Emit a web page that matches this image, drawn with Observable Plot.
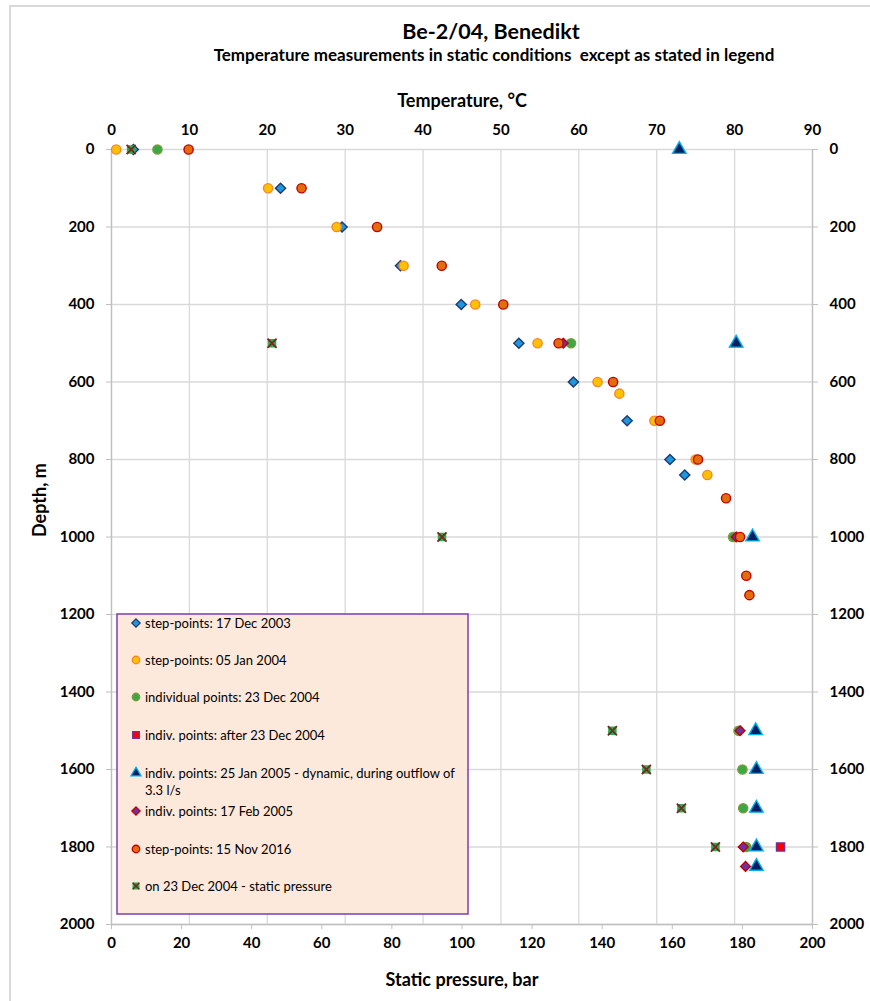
<!DOCTYPE html>
<html><head><meta charset="utf-8">
<script src="https://cdn.jsdelivr.net/npm/d3@7"></script>
<script src="https://cdn.jsdelivr.net/npm/@observablehq/plot@0.6"></script>
<style>body{margin:0;background:#fff;}</style>
</head><body><div id="chart"></div>
<script>
// ---- data ----
const tempTicks = [0,10,20,30,40,50,60,70,80,90];
const pressureTicks = [0,20,40,60,80,100,120,140,160,180,200];
const depthTicks = [0,200,400,600,800,1000,1200,1400,1600,1800,2000];

const depth2003 = [0,100,200,300,400,500,600,700,800,840];
const temp2003  = [2.8,21.7,29.6,37.1,44.9,52.3,59.3,66.2,71.7,73.6];

const depth2004 = [0,100,200,300,400,500,600,630,700,800,840];
const temp2004  = [0.6,20.1,28.9,37.5,46.7,54.7,62.4,65.2,69.7,75.0,76.5];

const depthDec04 = [0,500,1000,1500,1600,1700,1800];
const tempDec04  = [5.9,59.0,79.8,80.5,81.0,81.1,81.5];

const depthAfter04 = [1800];
const tempAfter04  = [85.9];

const depthJan05 = [0,500,1000,1500,1600,1700,1800,1850];
const tempJan05  = [72.9,80.2,82.3,82.7,82.8,82.8,82.8,82.8];

const depthFeb05 = [500,1000,1500,1800,1850];
const tempFeb05  = [58.0,80.2,80.7,81.1,81.4];

const depth2016 = [0,100,200,300,400,500,600,700,800,900,1000,1100,1150];
const temp2016  = [9.9,24.4,34.1,42.4,50.3,57.4,64.4,70.4,75.3,78.9,80.7,81.5,81.9];

const depthPress = [0,500,1000,1500,1600,1700,1800];
const pressure   = [5.6,45.8,94.3,142.9,152.6,162.6,172.3];

const legendLabels = [
  "step-points: 17 Dec 2003",
  "step-points: 05 Jan 2004",
  "individual points: 23 Dec 2004",
  "indiv. points: after 23 Dec 2004",
  "indiv. points: 25 Jan 2005 - dynamic, during outflow of|3.3 l/s",
  "indiv. points: 17 Feb 2005",
  "step-points: 15 Nov 2016",
  "on 23 Dec 2004 - static pressure"
];

// ---- build tables ----
const toRows = (depths, vals) => depths.map((d, i) => ({depth: d, v: vals[i]}));
const P2T = 90 / 200; // pressure axis (0–200 bar) shares the frame with temperature (0–90 °C)

const series = [
  {rows: toRows(depth2003, temp2003), symbol: "diamond2", fill: "#1e98dc", stroke: "#1f3a70", r: 4.6},
  {rows: toRows(depth2004, temp2004), symbol: "circle", fill: "#ffc000", stroke: "#f7862a", r: 4.6},
  {rows: toRows(depthDec04, tempDec04), symbol: "circle", fill: "#3aa845", stroke: "#7f9a3c", r: 4.6},
  {rows: toRows(depthAfter04, tempAfter04), symbol: "square", fill: "#ff0000", stroke: "#7030a0", r: 4.6},
  {rows: toRows(depthJan05, tempJan05), symbol: "triangle", fill: "#002060", stroke: "#00b0f0", r: 5},
  {rows: toRows(depthFeb05, tempFeb05), symbol: "diamond2", fill: "#7030a0", stroke: "#c00000", r: 4.4},
  {rows: toRows(depth2016, temp2016), symbol: "circle", fill: "#e46c0a", stroke: "#c00000", r: 4.6},
];
const pressRows = toRows(depthPress, pressure).map(d => ({depth: d.depth, v: d.v * P2T}));

const FONT = "Lato, 'Open Sans', sans-serif";
const grid = "#d9d9d9";
const fmt = d => String(d);

const marks = [
  Plot.gridX(tempTicks, {stroke: grid, strokeOpacity: 1, strokeWidth: 1.3}),
  Plot.gridY(depthTicks, {stroke: grid, strokeOpacity: 1, strokeWidth: 1.3}),
  Plot.ruleX([0, 90], {stroke: "#bfbfbf", strokeWidth: 1.3}),
  Plot.ruleY([2000], {stroke: "#bfbfbf", strokeWidth: 1.3}),
  Plot.axisX(tempTicks, {anchor: "top", tickSize: 0, tickPadding: 15, label: null, tickFormat: fmt, fontSize: 15, fontWeight: "bold", fill: "#000"}),
  Plot.axisX(pressureTicks.map(p => p * P2T), {anchor: "bottom", tickSize: 5, tickPadding: 8, stroke: "#bfbfbf", label: null,
    tickFormat: t => String(Math.round(t / P2T)), fontSize: 15, fontWeight: "bold", fill: "#000"}),
  Plot.axisY(depthTicks, {anchor: "left", tickSize: 5, tickPadding: 12, stroke: "#bfbfbf", label: null, tickFormat: fmt, fontSize: 15, fontWeight: "bold", fill: "#000"}),
  Plot.axisY(depthTicks, {anchor: "right", tickSize: 5, tickPadding: 12, stroke: "#bfbfbf", label: null, tickFormat: fmt, fontSize: 15, fontWeight: "bold", fill: "#000"}),
];
for (const s of series) {
  marks.push(Plot.dot(s.rows, {x: "v", y: "depth", symbol: () => s.symbol, fill: s.fill, stroke: s.stroke, strokeWidth: 1.4, r: s.r}));
}
marks.push(Plot.dot(pressRows, {x: "v", y: "depth", symbol: "square", fill: "#22b14c", stroke: "none", r: 4.8}));
marks.push(Plot.dot(pressRows, {x: "v", y: "depth", symbol: "times", stroke: "#7a2424", strokeWidth: 1.8, r: 4.2}));

// titles and axis titles
marks.push(Plot.text(["Be-2/04, Benedikt"], {frameAnchor: "top", dy: -126, dx: 29, fontSize: 21.5, fontWeight: "bold", fill: "#000"}));
marks.push(Plot.text(["Temperature measurements in static conditions  except as stated in legend"], {frameAnchor: "top", dy: -101, dx: 32, fontSize: 17, fontWeight: "bold", fill: "#000"}));
marks.push(Plot.text(["Temperature, °C"], {frameAnchor: "top", dy: -55, fontSize: 18, fontWeight: "bold", fill: "#000"}));
marks.push(Plot.text(["Static pressure, bar"], {frameAnchor: "bottom", dy: 61, fontSize: 18, fontWeight: "bold", fill: "#000"}));
marks.push(Plot.text(["Depth, m"], {frameAnchor: "left", dx: -71, rotate: -90, fontSize: 18, fontWeight: "bold", fill: "#000"}));

const chart = Plot.plot({
  width: 870, height: 1001,
  marginLeft: 111, marginRight: 58, marginTop: 149, marginBottom: 77,
  x: {domain: [0, 90], axis: null},
  y: {domain: [0, 2000], reverse: true, axis: null},
  style: {fontFamily: FONT, background: "#fff", overflow: "visible"},
  marks
});

// outer chart border (left and top edges visible in reference)
const svg = d3.select(chart);
svg.insert("path", ":first-child").attr("d", "M10,1001V6H870").attr("fill", "none").attr("stroke", "#d9d9d9").attr("stroke-width", 2);

// legend
const lg = svg.append("g").attr("font-family", FONT).attr("font-size", 13).attr("text-anchor", "start");
lg.append("rect").attr("x", 117).attr("y", 614).attr("width", 351).attr("height", 300)
  .attr("fill", "#fde9dc").attr("stroke", "#7a3fb0").attr("stroke-width", 1.5);
const rowY = [623, 660, 697, 735, 773, 811, 849, 886];
const symMap = {circle: d3.symbolCircle, diamond2: d3.symbolDiamond2, square: d3.symbolSquare, triangle: d3.symbolTriangle};
const legendStyles = series.map(s => ({type: symMap[s.symbol], fill: s.fill, stroke: s.stroke}));
legendLabels.forEach((lab, i) => {
  const y = rowY[i];
  if (i < 7) {
    const st = legendStyles[i];
    lg.append("path").attr("transform", `translate(136,${y})`)
      .attr("d", d3.symbol(st.type, 44)()).attr("fill", st.fill).attr("stroke", st.stroke).attr("stroke-width", 1.3);
  } else {
    lg.append("rect").attr("x", 132.5).attr("y", y - 3.5).attr("width", 7).attr("height", 7).attr("fill", "#22b14c");
    lg.append("path").attr("transform", `translate(136,${y})`).attr("d", d3.symbol(d3.symbolTimes, 30)())
      .attr("fill", "none").attr("stroke", "#7a2424").attr("stroke-width", 1.5);
  }
  const parts = lab.split("|");
  parts.forEach((p, j) => {
    lg.append("text").attr("x", 145).attr("y", y + j * 17).attr("dy", "0.35em").attr("fill", "#000").text(p);
  });
});

document.getElementById("chart").appendChild(chart);
</script>
</body></html>
